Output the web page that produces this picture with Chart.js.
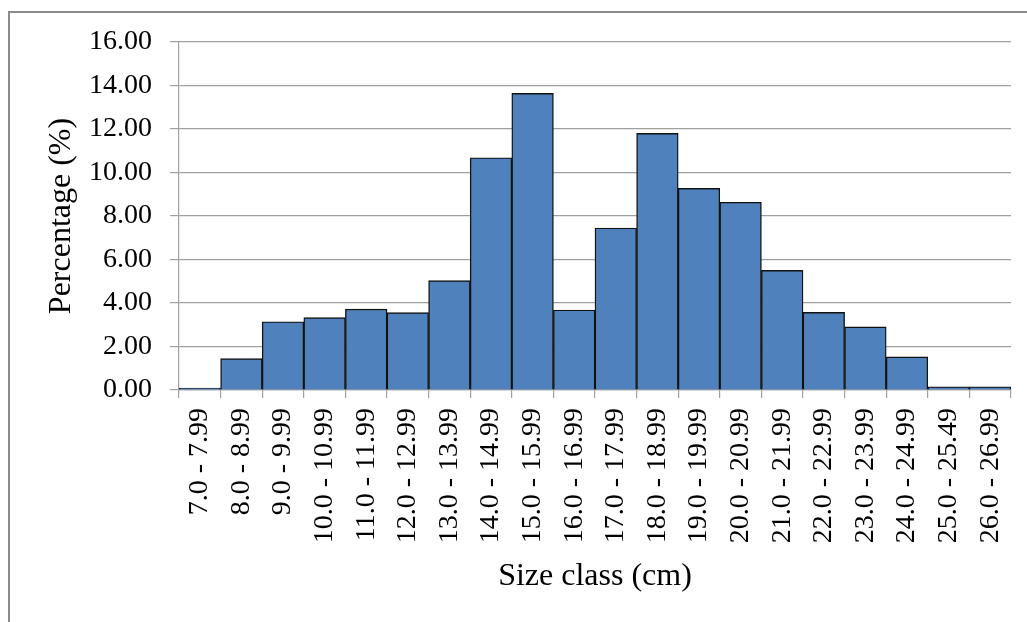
<!DOCTYPE html>
<html>
<head>
<meta charset="utf-8">
<script src="https://cdn.jsdelivr.net/npm/chart.js@4/dist/chart.umd.min.js"></script>
<style>
  html, body { margin: 0; padding: 0; background: #fff; overflow: hidden; }
  .frame { position: absolute; left: 8px; top: 11px; width: 1100px; height: 700px; border: 2px solid #8a8a8a; }
  canvas { position: absolute; left: 0; top: 0; }
</style>
</head>
<body>
<div class="frame"></div>
<canvas id="grafico" width="1027" height="622"></canvas>
<script>
const classes = ["7.0 - 7.99", "8.0 - 8.99", "9.0 - 9.99", "10.0 - 10.99", "11.0 - 11.99",
  "12.0 - 12.99", "13.0 - 13.99", "14.0 - 14.99", "15.0 - 15.99", "16.0 - 16.99",
  "17.0 - 17.99", "18.0 - 18.99", "19.0 - 19.99", "20.0 - 20.99", "21.0 - 21.99",
  "22.0 - 22.99", "23.0 - 23.99", "24.0 - 24.99", "25.0 - 25.49", "26.0 - 26.99"]
const percentages = [0.09, 1.44, 3.14, 3.33, 3.72, 3.56, 5.03, 10.68, 13.64, 3.68,
  7.45, 11.8, 9.27, 8.63, 5.5, 3.57, 2.9, 1.52, 0.15, 0.15]
const yTicks = [0, 2, 4, 6, 8, 10, 12, 14, 16]

const gridGray = "#a0a0a0"
const serif = "'Liberation Serif', 'Times New Roman', serif"

const ctx = document.getElementById("grafico")

new Chart(ctx, {
  type: "bar",
  data: {
    labels: classes,
    datasets: [{
      data: percentages,
      backgroundColor: "#4f81bd",
      borderColor: "#111",
      borderWidth: 1.4,
      barPercentage: 1,
      categoryPercentage: 1
    }]
  },
  options: {
    responsive: false,
    animation: false,
    layout: { padding: { left: 0, top: 42, right: 16, bottom: 0 } },
    plugins: { legend: { display: false }, tooltip: { enabled: false } },
    scales: {
      x: {
        grid: { display: true, drawOnChartArea: false, tickLength: 8, color: gridGray, lineWidth: 1.2 },
        border: { display: true, color: gridGray, width: 1.2 },
        ticks: {
          autoSkip: false, minRotation: 90, maxRotation: 90, padding: 10,
          color: "#000", font: { family: serif, size: 28 }
        },
        title: {
          display: true, text: "Size class (cm)", color: "#000",
          font: { family: serif, size: 32 }, padding: { top: 0, bottom: 26 }
        },
        afterFit: scale => {
          scale.height = 232
          scale.paddingLeft = 0
          scale.paddingRight = 0
        }
      },
      y: {
        min: 0, max: 16,
        afterBuildTicks: scale => { scale.ticks = yTicks.map(v => ({ value: v })) },
        grid: { color: gridGray, lineWidth: 1.2, tickLength: 9 },
        border: { display: true, color: gridGray, width: 1.2 },
        ticks: {
          padding: 18, color: "#000", font: { family: serif, size: 28 },
          callback: v => v.toFixed(2)
        },
        title: {
          display: true, text: "Percentage (%)", color: "#000",
          font: { family: serif, size: 32 }, padding: { top: 42, bottom: 0 }
        },
        afterFit: scale => { scale.width = 179 }
      }
    }
  }
})
</script>
</body>
</html>
